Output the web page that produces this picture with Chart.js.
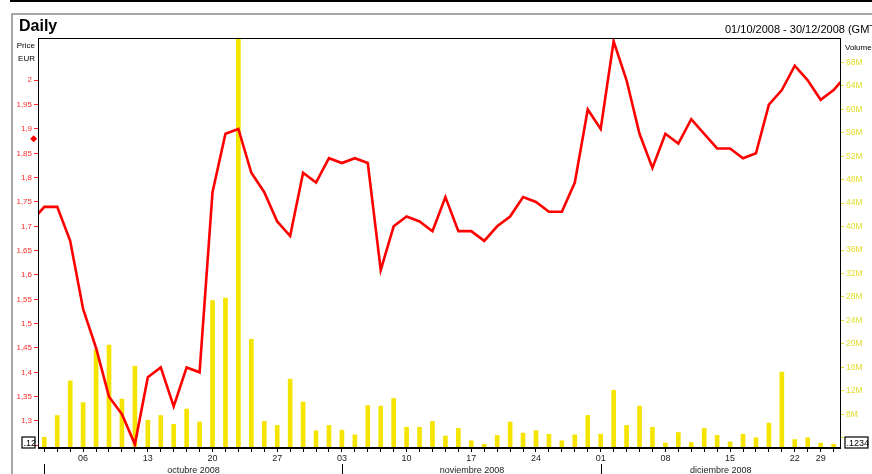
<!DOCTYPE html>
<html><head><meta charset="utf-8">
<script src="https://cdn.jsdelivr.net/npm/chart.js@4.4.0/dist/chart.umd.min.js"></script>
<style>
html,body{margin:0;padding:0;background:#fff;overflow:hidden;width:872px;height:474px;}
#wrap{position:relative;width:872px;height:474px;overflow:hidden;}
canvas{position:absolute;left:0;top:0;}
#title{position:absolute;left:19px;top:17px;font:bold 16px "Liberation Sans",Arial,sans-serif;color:#000;line-height:normal;}
#range{position:absolute;left:725px;top:23px;font:11px "Liberation Sans",Arial,sans-serif;color:#000;white-space:nowrap;line-height:normal;}
</style></head>
<body><div id="wrap"><canvas id="c" width="872" height="474"></canvas><div id="title">Daily</div><div id="range">01/10/2008 - 30/12/2008 (GMT)</div></div>
<script>
// ---- data ----
const dates = ['2008-09-30',
 '2008-10-01','2008-10-02','2008-10-03','2008-10-06','2008-10-07','2008-10-08','2008-10-09','2008-10-10',
 '2008-10-13','2008-10-14','2008-10-15','2008-10-16','2008-10-17','2008-10-20','2008-10-21','2008-10-22',
 '2008-10-23','2008-10-24','2008-10-27','2008-10-28','2008-10-29','2008-10-30','2008-10-31',
 '2008-11-03','2008-11-04','2008-11-05','2008-11-06','2008-11-07','2008-11-10','2008-11-11','2008-11-12',
 '2008-11-13','2008-11-14','2008-11-17','2008-11-18','2008-11-19','2008-11-20','2008-11-21','2008-11-24',
 '2008-11-25','2008-11-26','2008-11-27','2008-11-28',
 '2008-12-01','2008-12-02','2008-12-03','2008-12-04','2008-12-05','2008-12-08','2008-12-09','2008-12-10',
 '2008-12-11','2008-12-12','2008-12-15','2008-12-16','2008-12-17','2008-12-18','2008-12-19','2008-12-22',
 '2008-12-23','2008-12-29','2008-12-30','2008-12-31'];
const price = [1.71,
 1.74,1.74,1.67,1.53,1.45,1.35,1.314,1.252,1.39,1.41,1.33,1.41,1.40,1.77,1.89,1.90,1.81,1.77,1.71,1.68,1.81,1.79,1.84,
 1.83,1.84,1.83,1.61,1.70,1.72,1.71,1.69,1.76,1.69,1.69,1.67,1.70,1.72,1.76,1.75,1.73,1.73,1.79,1.94,
 1.90,2.08,2.00,1.89,1.82,1.89,1.87,1.92,1.89,1.86,1.86,1.84,1.85,1.95,1.98,2.03,2.00,1.96,1.98,2.01];
const volumeM = [null,
 4.1,7.8,13.7,10.0,19.0,19.8,10.6,16.2,7.0,7.8,6.3,8.9,6.7,27.4,27.8,72,20.8,6.8,6.1,14.0,10.1,5.2,6.1,
 5.3,4.5,9.5,9.4,10.7,5.8,5.8,6.8,4.3,5.6,3.5,2.9,4.4,6.7,4.8,5.2,4.6,3.5,4.5,7.8,
 4.6,12.1,6.1,9.4,5.8,3.1,4.9,3.2,5.6,4.4,3.3,4.6,4.0,6.5,15.2,3.7,4.0,3.1,2.9,null];
const monthNames = ['octubre 2008','noviembre 2008','diciembre 2008'];
const priceTicks = [1.25,1.3,1.35,1.4,1.45,1.5,1.55,1.6,1.65,1.7,1.75,1.8,1.85,1.9,1.95,2];
const priceHiddenLabels = [1.25];
const volumeTicks = [4,8,12,16,20,24,28,32,36,40,44,48,52,56,60,64,68];
const volumeHiddenLabels = [4];
const priceMarker = 1.88;
const leftBoxText = '.12';
const rightBoxText = '.1234';

const FONT = '"Liberation Sans", Arial, sans-serif';
const RED = '#ff2a2a';
const YEL = '#e3dc2a';
const firstIdx = 1, lastIdx = dates.length - 2;

function isMonday(d){ return new Date(d + 'T00:00:00').getDay() === 1; }
function fmtPrice(v){ let s = (Math.round(v*100)/100).toFixed(2).replace(/0+$/,'').replace(/\.$/,''); return s.replace('.', ','); }

const extras = {
  id: 'extras',
  afterDraw(chart){
    const ctx = chart.ctx, a = chart.chartArea;
    const xs = chart.scales.x, ys = chart.scales.y;
    ctx.save();
    // top black bar
    ctx.fillStyle = '#000'; ctx.fillRect(10, 0, 862, 2);
    // outer gray frame
    ctx.strokeStyle = '#8a8a82'; ctx.lineWidth = 1.5;
    ctx.beginPath(); ctx.moveTo(12, 474); ctx.lineTo(12, 14); ctx.lineTo(872, 14); ctx.stroke();
    // plot border
    ctx.strokeStyle = '#000'; ctx.lineWidth = 1;
    ctx.strokeRect(a.left + 0.5, a.top + 0.5, a.right - a.left, a.bottom - a.top);
    ctx.fillStyle = '#000'; ctx.fillRect(a.left, a.bottom - 1, a.right - a.left, 2);
    // axis headers
    ctx.font = '8px ' + FONT; ctx.fillStyle = '#000'; ctx.textBaseline = 'alphabetic';
    ctx.textAlign = 'right'; ctx.fillText('Price', 35, 48); ctx.fillText('EUR', 35, 61);
    ctx.textAlign = 'left'; ctx.fillText('Volume', 845, 50);
    // month separators and labels
    const starts = [];
    dates.forEach((d,i)=>{ if(i>=firstIdx && i<=lastIdx && (i===firstIdx || d.slice(5,7)!==dates[i-1].slice(5,7))) starts.push(i); });
    ctx.lineWidth = 1; ctx.strokeStyle = '#000';
    const bounds = starts.map(i=>Math.round(xs.getPixelForValue(i)) + 0.5);
    bounds.forEach(x=>{ ctx.beginPath(); ctx.moveTo(x, 464); ctx.lineTo(x, 474); ctx.stroke(); });
    ctx.font = '9px ' + FONT; ctx.fillStyle = '#222'; ctx.textAlign = 'center';
    monthNames.forEach((m,k)=>{
      const x0 = bounds[k], x1 = k+1 < bounds.length ? bounds[k+1] : a.right;
      ctx.fillText(m, (x0 + x1)/2, 473);
    });
    // price marker diamond
    const my = ys.getPixelForValue(priceMarker);
    ctx.fillStyle = '#ff0000';
    ctx.beginPath(); ctx.moveTo(33.7, my-3.5); ctx.lineTo(37.2, my); ctx.lineTo(33.7, my+3.5); ctx.lineTo(30.2, my); ctx.closePath(); ctx.fill();
    // boxes
    ctx.font = '9px ' + FONT; ctx.textAlign = 'left'; ctx.textBaseline = 'alphabetic';
    ctx.fillStyle = '#fff'; ctx.fillRect(22, a.bottom - 11, 13, 11);
    ctx.strokeStyle = '#000'; ctx.lineWidth = 1.2; ctx.strokeRect(22, a.bottom - 11, 13, 11);
    ctx.fillStyle = '#000'; ctx.fillText(leftBoxText, 23.5, a.bottom - 2.5);
    ctx.fillStyle = '#fff'; ctx.fillRect(845, a.bottom - 11, 23, 11);
    ctx.strokeRect(845, a.bottom - 11, 23, 11);
    ctx.fillStyle = '#000'; ctx.fillText(rightBoxText, 846.5, a.bottom - 2.5);
    ctx.restore();
  }
};

new Chart(document.getElementById('c'), {
  type: 'bar',
  data: {
    datasets: [
      { type:'line', data: price.map((p,i)=>({x:i, y:p})), yAxisID:'y', xAxisID:'x',
        borderColor:'#ff0000', borderWidth:2.6, pointRadius:0, tension:0, clip:0, order:0 },
      { type:'bar', data: volumeM.map((v,i)=>({x:i, y:v})), yAxisID:'y2', xAxisID:'x',
        backgroundColor:'#f5e400', barThickness:4, clip:0, order:1 }
    ]
  },
  options: {
    responsive:false, animation:false, devicePixelRatio:1,
    layout:{ padding:{ top:38, left:0, right:0, bottom:0 } },
    plugins:{ legend:{display:false}, tooltip:{enabled:false}, title:{display:false} },
    scales:{
      x:{ type:'linear', offset:false, min:0.513, max:62.495,
        afterBuildTicks: s=>{ s.ticks = dates.map((d,i)=>({value:i})).filter(t=>t.value>=firstIdx && t.value<=lastIdx); },
        ticks:{ autoSkip:false, maxRotation:0, minRotation:0, padding:1, color:'#222', font:{size:9, family:FONT},
          callback: v => isMonday(dates[v]) ? dates[v].slice(8,10) : '' },
        grid:{ drawOnChartArea:false, offset:false, tickLength:4, color:'#000' },
        border:{ display:false },
        afterFit: s=>{ s.height = 26; } },
      y:{ type:'linear', position:'left', min:1.2445, max:2.0869,
        afterBuildTicks: s=>{ s.ticks = priceTicks.map(v=>({value:v})); },
        ticks:{ padding:2, color:RED, font:{size:8, family:FONT},
          callback: v => priceHiddenLabels.some(h=>Math.abs(h-v)<1e-6) ? '' : fmtPrice(v) },
        grid:{ drawOnChartArea:false, tickLength:4, color:RED },
        border:{ display:false },
        afterFit: s=>{ s.width = 38; } },
      y2:{ type:'linear', position:'right', min:2.26, max:72.14,
        afterBuildTicks: s=>{ s.ticks = volumeTicks.map(v=>({value:v})); },
        ticks:{ padding:2, color:YEL, font:{size:8.5, family:FONT},
          callback: v => volumeHiddenLabels.includes(v) ? '' : v + 'M' },
        grid:{ drawOnChartArea:false, tickLength:4, color:YEL },
        border:{ display:false },
        afterFit: s=>{ s.width = 32; } }
    }
  },
  plugins:[extras]
});
</script>
</body></html>
